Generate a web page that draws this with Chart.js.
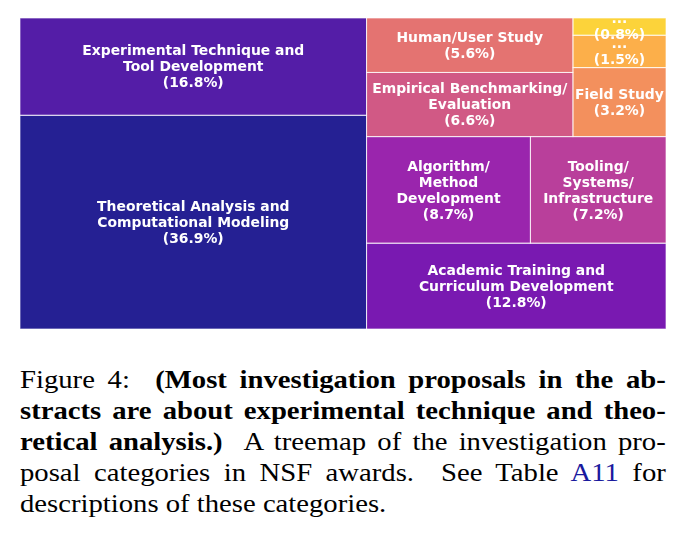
<!DOCTYPE html>
<html>
<head>
<meta charset="utf-8">
<script src="https://cdn.jsdelivr.net/npm/chart.js@4/dist/chart.umd.min.js"></script>
<style>
  html, body { margin: 0; padding: 0; background: #fff; }
  body { width: 691px; height: 555px; position: relative; overflow: hidden; }
  #chart { position: absolute; left: 0; top: 0; }
  #cap { position: absolute; left: 20px; top: 364px; width: 563px;
         transform: scaleX(1.147); transform-origin: 0 0;
         font-family: "Liberation Serif", "Times New Roman", serif; font-size: 25px;
         line-height: 31px; color: #000; }
  #cap .j { text-align: justify; text-align-last: justify; white-space: nowrap; }
  #cap .l { text-align: left; white-space: nowrap; }
  #cap .ref { color: #1a1a9e; }
</style>
</head>
<body>
<canvas id="chart" width="691" height="345"></canvas>
<div id="cap">
  <div class="j">Figure 4:&nbsp; <b>(Most investigation proposals in the ab-</b></div>
  <div class="j"><b>stracts are about experimental technique and theo-</b></div>
  <div class="j"><b>retical analysis.)</b>&nbsp; A treemap of the investigation pro-</div>
  <div class="j">posal categories in NSF awards.&nbsp; See Table <span class="ref">A11</span> for</div>
  <div class="l">descriptions of these categories.</div>
</div>
<script>
// ---- data ----
const categories = [
  "Theoretical Analysis and\nComputational Modeling",
  "Experimental Technique and\nTool Development",
  "Academic Training and\nCurriculum Development",
  "Algorithm/\nMethod\nDevelopment",
  "Tooling/\nSystems/\nInfrastructure",
  "Empirical Benchmarking/\nEvaluation",
  "Human/User Study",
  "Field Study",
  "...",
  "..."
];
const values = [36.9, 16.8, 12.8, 8.7, 7.2, 6.6, 5.6, 3.2, 1.5, 0.8];
const colors = ["#0d0887", "#41049d", "#6a00a8", "#8f0da4", "#b12a90",
                "#cc4778", "#e16462", "#f2844b", "#fca636", "#fcce25"];

// ---- squarify layout (normalized 100 x 100 box) ----
function normalizeSizes(sizes, dx, dy) {
  const total = sizes.reduce((a, b) => a + b, 0);
  return sizes.map(s => s * dx * dy / total);
}
function layoutrow(sizes, x, y, dx, dy) {
  const covered = sizes.reduce((a, b) => a + b, 0);
  const width = covered / dy;
  const rects = [];
  for (const s of sizes) { rects.push({x: x, y: y, dx: width, dy: s / width}); y += s / width; }
  return rects;
}
function layoutcol(sizes, x, y, dx, dy) {
  const covered = sizes.reduce((a, b) => a + b, 0);
  const height = covered / dx;
  const rects = [];
  for (const s of sizes) { rects.push({x: x, y: y, dx: s / height, dy: height}); x += s / height; }
  return rects;
}
function layout(sizes, x, y, dx, dy) {
  return dx >= dy ? layoutrow(sizes, x, y, dx, dy) : layoutcol(sizes, x, y, dx, dy);
}
function leftover(sizes, x, y, dx, dy) {
  const covered = sizes.reduce((a, b) => a + b, 0);
  if (dx >= dy) { const w = covered / dy; return [x + w, y, dx - w, dy]; }
  const h = covered / dx; return [x, y + h, dx, dy - h];
}
function worstRatio(sizes, x, y, dx, dy) {
  return Math.max(...layout(sizes, x, y, dx, dy).map(r => Math.max(r.dx / r.dy, r.dy / r.dx)));
}
function squarify(sizes, x, y, dx, dy) {
  if (sizes.length === 0) return [];
  if (sizes.length === 1) return layout(sizes, x, y, dx, dy);
  let i = 1;
  while (i < sizes.length &&
         worstRatio(sizes.slice(0, i), x, y, dx, dy) >= worstRatio(sizes.slice(0, i + 1), x, y, dx, dy)) i++;
  const current = sizes.slice(0, i), remaining = sizes.slice(i);
  const [lx, ly, ldx, ldy] = leftover(current, x, y, dx, dy);
  return layout(current, x, y, dx, dy).concat(squarify(remaining, lx, ly, ldx, ldy));
}
const rects = squarify(normalizeSizes(values, 100, 100), 0, 0, 100, 100);

function hexToRgba(h, a) {
  const n = parseInt(h.slice(1), 16);
  return `rgba(${(n >> 16) & 255},${(n >> 8) & 255},${n & 255},${a})`;
}

const treemapPlugin = {
  id: 'treemapCells',
  afterDatasetsDraw(chart) {
    const ctx = chart.ctx, xs = chart.scales.x, ys = chart.scales.y;
    const boxes = rects.map(r => ({
      x0: xs.getPixelForValue(r.x), x1: xs.getPixelForValue(r.x + r.dx),
      y0: ys.getPixelForValue(r.y + r.dy), y1: ys.getPixelForValue(r.y)
    }));
    ctx.save();
    boxes.forEach((b, i) => {
      ctx.fillStyle = hexToRgba(colors[i], 0.9);
      ctx.fillRect(b.x0, b.y0, b.x1 - b.x0, b.y1 - b.y0);
    });
    ctx.strokeStyle = 'rgba(255,255,255,0.65)';
    ctx.lineWidth = 1;
    boxes.forEach(b => { ctx.strokeRect(b.x0, b.y0, b.x1 - b.x0, b.y1 - b.y0); });
    ctx.fillStyle = '#ffffff';
    ctx.font = 'bold 13.9px "DejaVu Sans"';
    ctx.textAlign = 'center';
    ctx.textBaseline = 'middle';
    const lh = 16;
    boxes.forEach((b, i) => {
      const lines = categories[i].split('\n').concat(['(' + values[i].toFixed(1) + '%)']);
      const cx = (b.x0 + b.x1) / 2, cy = (b.y0 + b.y1) / 2 + 1;
      const start = cy - (lines.length - 1) * lh / 2;
      lines.forEach((t, k) => ctx.fillText(t, cx, start + k * lh));
    });
    ctx.restore();
  }
};

new Chart(document.getElementById('chart'), {
  type: 'scatter',
  data: { datasets: [{ data: [], pointRadius: 0 }] },
  options: {
    responsive: false,
    animation: false,
    devicePixelRatio: 1,
    layout: { padding: { left: 20, right: 25, top: 18, bottom: 16 } },
    plugins: { legend: { display: false }, tooltip: { enabled: false } },
    scales: {
      x: { type: 'linear', min: 0, max: 100, display: false },
      y: { type: 'linear', min: 0, max: 100, display: false }
    }
  },
  plugins: [treemapPlugin]
});
</script>
</body>
</html>
